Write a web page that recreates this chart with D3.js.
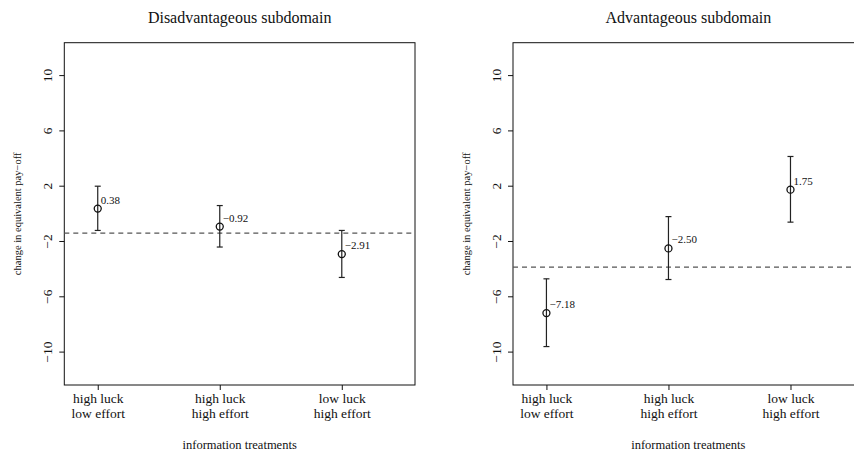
<!DOCTYPE html>
<meta charset="utf-8" />
<html>
<head>
    <style>
        body { margin: 0; background: #fff; }
        text { font-family: "Liberation Serif", "Times New Roman", serif; fill: #111; }
        .domain, .tick line { stroke: #111; }
    </style>
</head>
<body>
    <svg width="854" height="455"></svg>
    <script src="https://d3js.org/d3.v7.min.js"></script>
    <script>
        // data
        var categories = [["high luck", "low effort"], ["high luck", "high effort"], ["low luck", "high effort"]];
        var yTicks = [-10, -6, -2, 2, 6, 10];

        var disadvMean = [0.38, -0.92, -2.91];
        var disadvLow = [-1.2, -2.4, -4.6];
        var disadvHigh = [2.0, 0.6, -1.2];
        var disadvBaseline = -1.4;

        var advMean = [-7.18, -2.50, 1.75];
        var advLow = [-9.6, -4.75, -0.6];
        var advHigh = [-4.7, -0.2, 4.15];
        var advBaseline = -3.85;

        var svg = d3.select("svg");
        var minus = function (v) { return String(v).replace("-", "\u2212"); };

        function panel(left, title, mean, low, high, baseline) {
            var w = 350.7, top = 42.7, bottom = 385;
            var g = svg.append("g");

            var x = d3.scaleLinear().domain([0.726, 3.6]).range([left, left + w]);
            var y = d3.scaleLinear().domain([-12.38, 12.38]).range([bottom, top]);

            g.append("rect")
                .attr("x", left).attr("y", top)
                .attr("width", w).attr("height", bottom - top)
                .attr("fill", "none").attr("stroke", "#111").attr("stroke-width", 1);

            // y axis, labels parallel to the axis
            var ya = g.append("g")
                .attr("transform", "translate(" + left + ",0)")
                .call(d3.axisLeft(y).tickValues(yTicks).tickSize(5).tickFormat(minus));
            ya.select(".domain").remove();
            ya.selectAll("text")
                .attr("x", null).attr("dy", null)
                .attr("transform", function (d) { return "translate(-12," + y(d) + ") rotate(-90)"; })
                .attr("y", 0)
                .attr("text-anchor", "middle")
                .style("font-size", "13.5px");
            ya.selectAll(".tick").attr("transform", null);
            ya.selectAll(".tick line").attr("y1", function (d) { return y(d); }).attr("y2", function (d) { return y(d); });

            // x axis
            var xa = g.append("g")
                .attr("transform", "translate(0," + bottom + ")")
                .call(d3.axisBottom(x).tickValues([1, 2, 3]).tickSize(5).tickFormat(""));
            xa.select(".domain").remove();
            xa.selectAll(".tick").each(function (d) {
                var t = d3.select(this).append("text")
                    .attr("text-anchor", "middle")
                    .style("font-size", "13.5px");
                categories[d - 1].forEach(function (s, i) {
                    t.append("tspan").attr("x", 0).attr("y", 18 + i * 15).text(s);
                });
            });

            // reference line
            g.append("line")
                .attr("x1", left).attr("x2", left + w)
                .attr("y1", y(baseline)).attr("y2", y(baseline))
                .attr("stroke", "#555").attr("stroke-dasharray", "5,4").attr("stroke-width", 1.2);

            var pts = g.selectAll(".pt").data(mean).enter().append("g").attr("class", "pt");
            pts.append("line")
                .attr("x1", function (d, i) { return x(i + 1); })
                .attr("x2", function (d, i) { return x(i + 1); })
                .attr("y1", function (d, i) { return y(low[i]); })
                .attr("y2", function (d, i) { return y(high[i]); })
                .attr("stroke", "#222").attr("stroke-width", 1.2);
            [low, high].forEach(function (arr) {
                pts.append("line")
                    .attr("x1", function (d, i) { return x(i + 1) - 3; })
                    .attr("x2", function (d, i) { return x(i + 1) + 3; })
                    .attr("y1", function (d, i) { return y(arr[i]); })
                    .attr("y2", function (d, i) { return y(arr[i]); })
                    .attr("stroke", "#222").attr("stroke-width", 1.2);
            });
            pts.append("circle")
                .attr("cx", function (d, i) { return x(i + 1); })
                .attr("cy", function (d) { return y(d); })
                .attr("r", 3.5)
                .attr("fill", "none").attr("stroke", "#111").attr("stroke-width", 1.3);
            pts.append("text")
                .attr("x", function (d, i) { return x(i + 1) + 3; })
                .attr("y", function (d) { return y(d) - 5; })
                .style("font-size", "11px")
                .text(function (d) { return minus(d.toFixed(2)); });

            g.append("text")
                .attr("x", left + w / 2).attr("y", 23)
                .attr("text-anchor", "middle")
                .style("font-size", "16px")
                .text(title);

            g.append("text")
                .attr("x", left + w / 2).attr("y", 449)
                .attr("text-anchor", "middle")
                .style("font-size", "12.5px")
                .text("information treatments");

            g.append("text")
                .attr("transform", "translate(" + (left - 43) + "," + ((top + bottom) / 2) + ") rotate(-90)")
                .attr("text-anchor", "middle")
                .style("font-size", "10.5px")
                .text("change in equivalent pay\u2212off");
        }

        panel(64.3, "Disadvantageous subdomain", disadvMean, disadvLow, disadvHigh, disadvBaseline);
        panel(513, "Advantageous subdomain", advMean, advLow, advHigh, advBaseline);
    </script>
</body>
</html>
